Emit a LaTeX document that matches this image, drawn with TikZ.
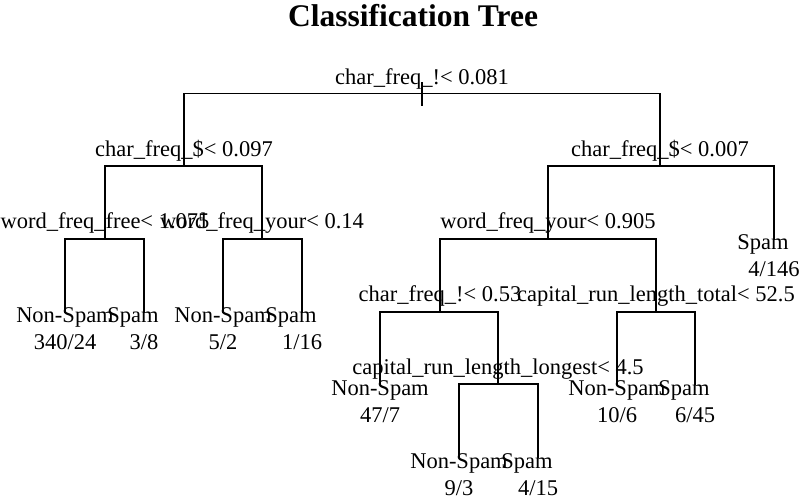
\documentclass[tikz,border=0pt]{standalone}
\usepackage{fontspec}
\setmainfont{Liberation Serif}
\begin{document}
\begin{tikzpicture}[x=1pt,y=-1pt,
  edge/.style={line width=1.9pt, line cap=rect},
  txt/.style={font=\fontsize{22.5}{27}\selectfont, inner sep=0pt, anchor=base},
  ttl/.style={font=\fontsize{31.5}{36}\selectfont\bfseries, inner sep=0pt, anchor=base}]
\useasboundingbox (0,0) rectangle (800,496);
\node[ttl] (title) at (413,26) {Classification Tree};
% tree points
\coordinate (rtop) at (422,83);
\coordinate (root) at (422,93.5);
\coordinate (rbot) at (422,105);
\coordinate (a) at (184,166.2);
\coordinate (b) at (660,166.2);
\coordinate (aa) at (105,238.9);
\coordinate (ab) at (262,238.9);
\coordinate (aaa) at (65,311.6);
\coordinate (aab) at (144,311.6);
\coordinate (aba) at (223,311.6);
\coordinate (abb) at (302,311.6);
\coordinate (ba) at (548,238.9);
\coordinate (bb) at (774,238.9);
\coordinate (baa) at (440,311.6);
\coordinate (bab) at (656,311.6);
\coordinate (baaa) at (380,384.3);
\coordinate (baab) at (498,384.3);
\coordinate (baaba) at (459,457);
\coordinate (baabb) at (538,457);
\coordinate (baba) at (617,384.3);
\coordinate (babb) at (695,384.3);
% connectors
\draw[edge] (rtop) -- (rbot);
\draw[edge] (a) |- (root) -| (b);
\draw[edge] (aa) |- (a) -| (ab);
\draw[edge] (aaa) |- (aa) -| (aab);
\draw[edge] (aba) |- (ab) -| (abb);
\draw[edge] (ba) |- (b) -| (bb);
\draw[edge] (baa) |- (ba) -| (bab);
\draw[edge] (baaa) |- (baa) -| (baab);
\draw[edge] (baaba) |- (baab) -| (baabb);
\draw[edge] (baba) |- (bab) -| (babb);
% split labels
\node[txt] (lroot) at ([yshift=9pt]root) {char\_freq\_!< 0.081};
\node[txt] (la) at ([yshift=10pt]a) {char\_freq\_\$< 0.097};
\node[txt] (lb) at ([yshift=10pt]b) {char\_freq\_\$< 0.007};
\node[txt] (laa) at ([yshift=10pt]aa) {word\_freq\_free< 1.075};
\node[txt] (lab) at ([yshift=10pt]ab) {word\_freq\_your< 0.14};
\node[txt] (lba) at ([yshift=10pt]ba) {word\_freq\_your< 0.905};
\node[txt] (lbaa) at ([yshift=10pt]baa) {char\_freq\_!< 0.53};
\node[txt] (lbab) at ([yshift=10pt]bab) {capital\_run\_length\_total< 52.5};
\node[txt] (lbaab) at ([yshift=10pt]baab) {capital\_run\_length\_longest< 4.5};
% leaf labels
\node[txt] (caaa) at ([yshift=-11pt]aaa) {Non-Spam};
\node[txt] (naaa) at ([yshift=-38pt]aaa) {340/24};
\node[txt] (caab) at ([xshift=-11pt,yshift=-11pt]aab) {Spam};
\node[txt] (naab) at ([yshift=-38pt]aab) {3/8};
\node[txt] (caba) at ([yshift=-11pt]aba) {Non-Spam};
\node[txt] (naba) at ([yshift=-38pt]aba) {5/2};
\node[txt] (cabb) at ([xshift=-11pt,yshift=-11pt]abb) {Spam};
\node[txt] (nabb) at ([yshift=-38pt]abb) {1/16};
\node[txt] (cbb) at ([xshift=-11pt,yshift=-11pt]bb) {Spam};
\node[txt] (nbb) at ([yshift=-38pt]bb) {4/146};
\node[txt] (cbaaa) at ([yshift=-11pt]baaa) {Non-Spam};
\node[txt] (nbaaa) at ([yshift=-38pt]baaa) {47/7};
\node[txt] (cbaaba) at ([yshift=-11pt]baaba) {Non-Spam};
\node[txt] (nbaaba) at ([yshift=-38pt]baaba) {9/3};
\node[txt] (cbaabb) at ([xshift=-11pt,yshift=-11pt]baabb) {Spam};
\node[txt] (nbaabb) at ([yshift=-38pt]baabb) {4/15};
\node[txt] (cbaba) at ([yshift=-11pt]baba) {Non-Spam};
\node[txt] (nbaba) at ([yshift=-38pt]baba) {10/6};
\node[txt] (cbabb) at ([xshift=-11pt,yshift=-11pt]babb) {Spam};
\node[txt] (nbabb) at ([yshift=-38pt]babb) {6/45};
\end{tikzpicture}
\end{document}
